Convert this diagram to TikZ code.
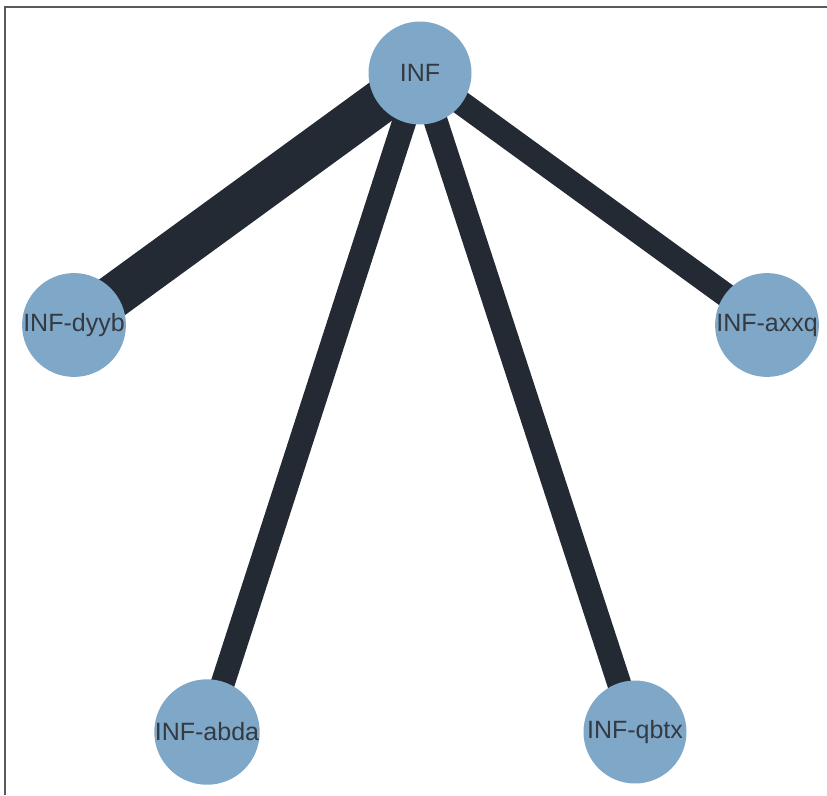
\documentclass[tikz,border=0pt]{standalone}
\usepackage{fontspec}
\setmainfont{Liberation Sans}
\usetikzlibrary{backgrounds}
\definecolor{nodeblue}{HTML}{7FA7C8}
\definecolor{edgedark}{HTML}{232A33}
\definecolor{labelgray}{HTML}{333A42}
\definecolor{framegray}{HTML}{5A5A5A}

\begin{document}
\begin{tikzpicture}[x=1pt,y=-1pt,
	every node/.style={circle,fill=nodeblue,minimum size=103pt,inner sep=0pt,text=labelgray,font=\fontsize{25}{29}\selectfont},
	link/.style={draw=edgedark,line width=24pt},
	heavy link/.style={link,line width=44pt}]
    \useasboundingbox (0,0) rectangle (827,795);
    \draw[framegray,line width=2pt] (5,795) -- (5,7) -- (827,7);

    \node (inf) at (420,73) {INF};
    \node (dyyb) at (74,325) {INF-dyyb};
    \node (axxq) at (767,325) {INF-axxq};
    \node (abda) at (207,732) {INF-abda};
    \node (qbtx) at (635,732) {INF-qbtx};

    \begin{scope}[on background layer]
    \draw[heavy link] (inf.center) -- (dyyb.center);
    \draw[link] (inf.center) -- (axxq.center);
    \draw[link] (inf.center) -- (abda.center);
    \draw[link] (inf.center) -- (qbtx.center);
    \end{scope}

\end{tikzpicture}
\end{document}
